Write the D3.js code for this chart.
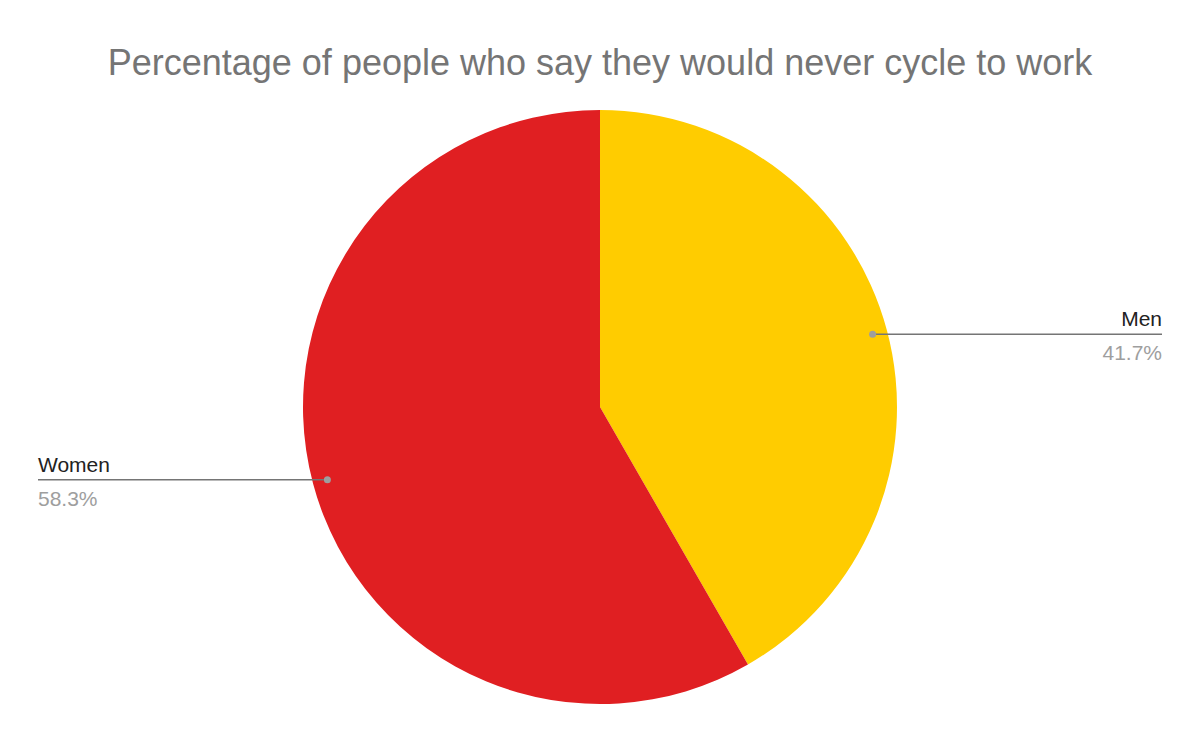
<!DOCTYPE html>
<html><head><meta charset="utf-8">
<script src="https://cdn.jsdelivr.net/npm/d3@7"></script>
<style>body{margin:0;background:#fff}</style>
</head><body>
<svg id="c" width="1200" height="742"></svg>
<script>
const categories = ["Men", "Women"];
const values = [41.7, 58.3];
const colors = ["#FFCC00", "#E01F22"];
const title = "Percentage of people who say they would never cycle to work";

const svg = d3.select("#c");
const font = "'Liberation Sans', Arial, sans-serif";
svg.append("text").attr("x", 600).attr("y", 75).attr("text-anchor", "middle")
  .attr("font-family", font).attr("font-size", 36).attr("fill", "#757575").text(title);

const cx = 600, cy = 407, r = 297;
const data = categories.map((c, i) => ({c, v: values[i], col: colors[i]}));
const pie = d3.pie().value(d => d.v).sort(null);
const arcs = pie(data);
const arc = d3.arc().innerRadius(0).outerRadius(r);
const g = svg.append("g").attr("transform", `translate(${cx},${cy})`);
g.selectAll("path").data(arcs).join("path").attr("d", arc).attr("fill", d => d.data.col);

const fmt = v => v.toFixed(1) + "%";
arcs.forEach(a => {
  const m = (a.startAngle + a.endAngle) / 2;
  const px = cx + Math.sin(m) * r * 0.95, py = cy - Math.cos(m) * r * 0.95;
  const right = Math.sin(m) > 0;
  const ex = right ? 1162 : 38;
  svg.append("line").attr("x1", px).attr("y1", py).attr("x2", ex).attr("y2", py)
    .attr("stroke", "#757575").attr("stroke-width", 1.5);
  svg.append("circle").attr("cx", px).attr("cy", py).attr("r", 3.5).attr("fill", "#9e9e9e");
  const anchor = right ? "end" : "start";
  svg.append("text").attr("x", ex).attr("y", py - 8).attr("text-anchor", anchor)
    .attr("font-family", font).attr("font-size", 21).attr("fill", "#222").text(a.data.c);
  svg.append("text").attr("x", ex).attr("y", py + 26).attr("text-anchor", anchor)
    .attr("font-family", font).attr("font-size", 21).attr("fill", "#9e9e9e").text(fmt(a.data.v));
});
</script>
</body></html>
